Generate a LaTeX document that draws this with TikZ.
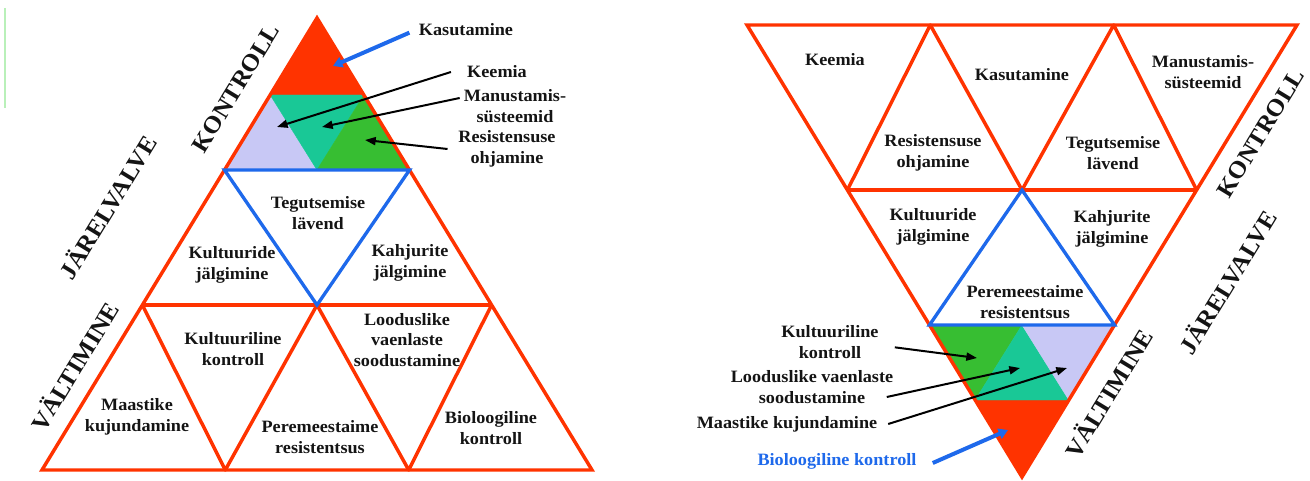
\documentclass[tikz,border=0pt]{standalone}
\usepackage{fontspec}
\setmainfont{Liberation Serif}[FakeStretch=1.05]
\usetikzlibrary{arrows.meta}

\definecolor{pmred}{RGB}{255,51,0}
\definecolor{pmblue}{RGB}{30,105,235}
\definecolor{pmlav}{RGB}{200,200,245}
\definecolor{pmteal}{RGB}{25,200,150}
\definecolor{pmgreen}{RGB}{55,190,50}
\definecolor{pmtext}{RGB}{20,20,20}
\definecolor{pmfaint}{RGB}{185,240,185}

\begin{document}
\begin{tikzpicture}[x=0.75pt,y=0.75pt,yscale=-1,xscale=1,
  redline/.style={draw=pmred,line width=2.6pt,line join=miter},
  zigline/.style={draw=pmred,line width=2.6pt,line join=round},
  blueline/.style={draw=pmblue,line width=2.5pt,line join=miter},
  lbl/.style={font=\fontsize{13}{15.5}\selectfont\bfseries,align=center,inner sep=1pt,text=pmtext},
  sidelbl/.style={font=\fontsize{18}{20}\selectfont\bfseries,inner sep=0pt,rotate=58.6,text=pmtext},
  blackarr/.style={draw=black,line width=1.5pt,-{Triangle[length=8pt,width=6pt]}},
  bluearr/.style={draw=pmblue,line width=3pt,-{Triangle[length=7pt,width=8pt]}}]
\useasboundingbox (0,0) rectangle (1310,481);
%Straight Lines [faint edge]
\draw [pmfaint,line width=1pt] (5,8) -- (5,108) ;

%%%%% left pyramid
%Shape: Triangle [top, red]
\filldraw [fill=pmred,draw=pmred,line width=0.3pt] (317,18) -- (270.2,95) -- (363.8,95) -- cycle ;
%Shape: Triangle [lavender]
\filldraw [fill=pmlav,draw=pmlav,line width=0.3pt] (270.2,95) -- (224.5,170) -- (317,170) -- cycle ;
%Shape: Triangle [teal]
\filldraw [fill=pmteal,draw=pmteal,line width=0.3pt] (270.2,95) -- (363.8,95) -- (317,170) -- cycle ;
%Shape: Triangle [green]
\filldraw [fill=pmgreen,draw=pmgreen,line width=0.3pt] (363.8,95) -- (317,170) -- (409.5,170) -- cycle ;
%Shape: Triangle [outline]
\draw [redline] (317,18) -- (42,470) -- (592,470) -- cycle ;
%Straight Lines
\draw [redline] (142.4,305) -- (491.6,305) ;
%Straight Lines
\draw [zigline] (142.4,305) -- (225.3,470) -- (317,305) -- (408.7,470) -- (491.6,305) ;
%Shape: Triangle [blue]
\draw [blueline] (224.5,170) -- (409.5,170) -- (317,305) -- cycle ;

% Text Node
\node [lbl] (kas) at (466,30) {Kasutamine};
% Text Node
\node [lbl] (kee) at (497,72) {Keemia};
% Text Node
\node [lbl] (man) at (515,106) {Manustamis-\\süsteemid};
% Text Node
\node [lbl] (res) at (507,149) {Resistensuse\\ohjamine};
% Text Node
\node [lbl] (teg) at (318,213) {Tegutsemise\\lävend};
% Text Node
\node [lbl] (kud) at (232,265) {Kultuuride\\jälgimine};
% Text Node
\node [lbl] (kaj) at (410,263) {Kahjurite\\jälgimine};
% Text Node
\node [lbl] (kuk) at (233,349) {Kultuuriline\\kontroll};
% Text Node
\node [lbl] (loo) at (407,340) {Looduslike\\vaenlaste\\soodustamine};
% Text Node
\node [lbl] (maa) at (137,417) {Maastike\\kujundamine};
% Text Node
\node [lbl] (per) at (320,437) {Peremeestaime\\resistentsus};
% Text Node
\node [lbl] (bio) at (491,428) {Bioloogiline\\kontroll};
% Text Node
\node [sidelbl] (lkon) at (236,88) {KONTROLL};
% Text Node
\node [sidelbl] (ljar) at (107,207) {JÄRELVALVE};
% Text Node
\node [sidelbl] (lval) at (74,366) {VÄLTIMINE};

\coordinate (kasP) at (333,66);
\coordinate (keeP) at (277,127);
\coordinate (manP) at (322,127);
\coordinate (resP) at (365,140);
%Straight Lines [arrows]
\draw [bluearr] ([xshift=-6pt,yshift=2pt]kas.west) -- (kasP) ;
\draw [blackarr] ([xshift=-11pt]kee.west) -- (keeP) ;
\draw [blackarr] ([xshift=-2pt,yshift=-6pt]man.west) -- (manP) ;
\draw [blackarr] ([xshift=-7pt]res.west) -- (resP) ;

%%%%% right pyramid
%Shape: Triangle [bottom, red]
\filldraw [fill=pmred,draw=pmred,line width=0.3pt] (1022,477) -- (975.2,400) -- (1068.8,400) -- cycle ;
%Shape: Triangle [green]
\filldraw [fill=pmgreen,draw=pmgreen,line width=0.3pt] (929.5,325) -- (1022,325) -- (975.2,400) -- cycle ;
%Shape: Triangle [teal]
\filldraw [fill=pmteal,draw=pmteal,line width=0.3pt] (975.2,400) -- (1068.8,400) -- (1022,325) -- cycle ;
%Shape: Triangle [lavender]
\filldraw [fill=pmlav,draw=pmlav,line width=0.3pt] (1022,325) -- (1114.5,325) -- (1068.8,400) -- cycle ;
%Shape: Triangle [outline]
\draw [redline] (747,25) -- (1297,25) -- (1022,477) -- cycle ;
%Straight Lines
\draw [redline] (847.4,190) -- (1196.6,190) ;
%Straight Lines
\draw [zigline] (847.4,190) -- (930.3,25) -- (1022,190) -- (1113.7,25) -- (1196.6,190) ;
%Shape: Triangle [blue]
\draw [blueline] (1022,190) -- (929.5,325) -- (1114.5,325) -- cycle ;

% Text Node
\node [lbl] (rkee) at (835,60) {Keemia};
% Text Node
\node [lbl] (rkas) at (1022,75) {Kasutamine};
% Text Node
\node [lbl] (rman) at (1203,72) {Manustamis-\\süsteemid};
% Text Node
\node [lbl] (rres) at (933,153) {Resistensuse\\ohjamine};
% Text Node
\node [lbl] (rteg) at (1113,153) {Tegutsemise\\lävend};
% Text Node
\node [lbl] (rkud) at (933,227) {Kultuuride\\jälgimine};
% Text Node
\node [lbl] (rkaj) at (1112,229) {Kahjurite\\jälgimine};
% Text Node
\node [lbl] (rper) at (1025,302) {Peremeestaime\\resistentsus};
% Text Node
\node [lbl] (rkuk) at (830,342) {Kultuuriline\\kontroll};
% Text Node
\node [lbl] (rloo) at (812,387) {Looduslike vaenlaste\\soodustamine};
% Text Node
\node [lbl] (rmaa) at (787,424) {Maastike kujundamine};
% Text Node
\node [lbl,text=pmblue] (rbio) at (837,461) {Bioloogiline kontroll};
% Text Node
\node [sidelbl] (rkon) at (1261,133) {KONTROLL};
% Text Node
\node [sidelbl] (rjar) at (1227,282) {JÄRELVALVE};
% Text Node
\node [sidelbl] (rval) at (1108,393) {VÄLTIMINE};

\coordinate (rkukP) at (977,358);
\coordinate (rlooP) at (1020,368);
\coordinate (rmaaP) at (1067,368);
\coordinate (rbioP) at (1008,430);
%Straight Lines [arrows]
\draw [blackarr] ([xshift=11pt,yshift=4pt]rkuk.east) -- (rkukP) ;
\draw [blackarr] ([xshift=-6pt,yshift=7.5pt]rloo.east) -- (rlooP) ;
\draw [blackarr] ([xshift=7pt]rmaa.east) -- (rmaaP) ;
\draw [bluearr] ([xshift=11pt,yshift=1.5pt]rbio.east) -- (rbioP) ;
\end{tikzpicture}
\end{document}
